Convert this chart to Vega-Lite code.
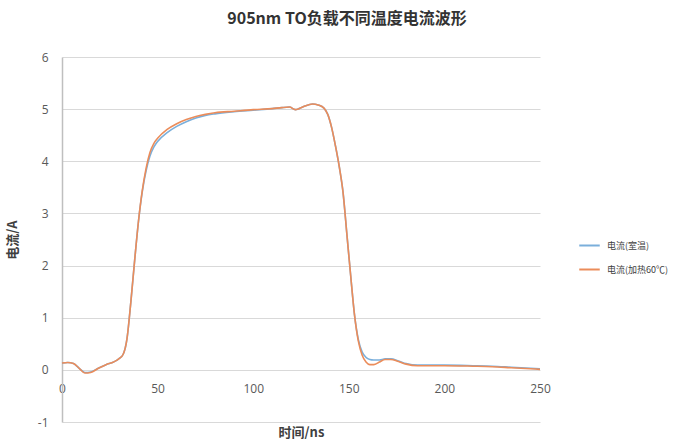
{
  "$schema": "https://vega.github.io/schema/vega-lite/v6.json",
  "autosize": "none",
  "width": 478,
  "height": 365,
  "padding": {"left": 62, "top": 57, "right": 147, "bottom": 24},
  "background": "white",
  "title": {
    "text": "905nm TO负载不同温度电流波形",
    "font": "Noto Sans CJK SC",
    "fontSize": 16,
    "fontWeight": "bold",
    "color": "#333333",
    "anchor": "middle",
    "dx": 46,
    "offset": 24
  },
  "datasets": {
    "curves": [
      {"t": 0, "v": 0.13, "s": "电流(室温)"},
      {"t": 3, "v": 0.14, "s": "电流(室温)"},
      {"t": 6, "v": 0.12, "s": "电流(室温)"},
      {"t": 9, "v": 0.03, "s": "电流(室温)"},
      {"t": 12, "v": -0.05, "s": "电流(室温)"},
      {"t": 15, "v": -0.04, "s": "电流(室温)"},
      {"t": 19, "v": 0.03, "s": "电流(室温)"},
      {"t": 23, "v": 0.1, "s": "电流(室温)"},
      {"t": 27, "v": 0.15, "s": "电流(室温)"},
      {"t": 30, "v": 0.22, "s": "电流(室温)"},
      {"t": 32, "v": 0.3, "s": "电流(室温)"},
      {"t": 34, "v": 0.6, "s": "电流(室温)"},
      {"t": 36, "v": 1.3, "s": "电流(室温)"},
      {"t": 38, "v": 2.1, "s": "电流(室温)"},
      {"t": 40, "v": 2.85, "s": "电流(室温)"},
      {"t": 42, "v": 3.42, "s": "电流(室温)"},
      {"t": 44, "v": 3.82, "s": "电流(室温)"},
      {"t": 46, "v": 4.1, "s": "电流(室温)"},
      {"t": 48, "v": 4.27, "s": "电流(室温)"},
      {"t": 50, "v": 4.38, "s": "电流(室温)"},
      {"t": 55, "v": 4.55, "s": "电流(室温)"},
      {"t": 60, "v": 4.67, "s": "电流(室温)"},
      {"t": 65, "v": 4.76, "s": "电流(室温)"},
      {"t": 70, "v": 4.83, "s": "电流(室温)"},
      {"t": 75, "v": 4.88, "s": "电流(室温)"},
      {"t": 80, "v": 4.91, "s": "电流(室温)"},
      {"t": 90, "v": 4.95, "s": "电流(室温)"},
      {"t": 100, "v": 4.98, "s": "电流(室温)"},
      {"t": 110, "v": 5.01, "s": "电流(室温)"},
      {"t": 115, "v": 5.03, "s": "电流(室温)"},
      {"t": 119, "v": 5.04, "s": "电流(室温)"},
      {"t": 122, "v": 4.99, "s": "电流(室温)"},
      {"t": 124, "v": 5.01, "s": "电流(室温)"},
      {"t": 127, "v": 5.06, "s": "电流(室温)"},
      {"t": 131, "v": 5.1, "s": "电流(室温)"},
      {"t": 134, "v": 5.08, "s": "电流(室温)"},
      {"t": 137, "v": 5.02, "s": "电流(室温)"},
      {"t": 139, "v": 4.9, "s": "电流(室温)"},
      {"t": 141, "v": 4.65, "s": "电流(室温)"},
      {"t": 143, "v": 4.3, "s": "电流(室温)"},
      {"t": 145, "v": 3.9, "s": "电流(室温)"},
      {"t": 147, "v": 3.4, "s": "电流(室温)"},
      {"t": 149, "v": 2.6, "s": "电流(室温)"},
      {"t": 151, "v": 1.8, "s": "电流(室温)"},
      {"t": 153, "v": 1.05, "s": "电流(室温)"},
      {"t": 155, "v": 0.58, "s": "电流(室温)"},
      {"t": 157, "v": 0.34, "s": "电流(室温)"},
      {"t": 159, "v": 0.24, "s": "电流(室温)"},
      {"t": 161, "v": 0.2, "s": "电流(室温)"},
      {"t": 163, "v": 0.19, "s": "电流(室温)"},
      {"t": 166, "v": 0.19, "s": "电流(室温)"},
      {"t": 169, "v": 0.21, "s": "电流(室温)"},
      {"t": 172, "v": 0.21, "s": "电流(室温)"},
      {"t": 176, "v": 0.17, "s": "电流(室温)"},
      {"t": 180, "v": 0.12, "s": "电流(室温)"},
      {"t": 186, "v": 0.09, "s": "电流(室温)"},
      {"t": 200, "v": 0.09, "s": "电流(室温)"},
      {"t": 215, "v": 0.08, "s": "电流(室温)"},
      {"t": 225, "v": 0.07, "s": "电流(室温)"},
      {"t": 235, "v": 0.05, "s": "电流(室温)"},
      {"t": 245, "v": 0.03, "s": "电流(室温)"},
      {"t": 250, "v": 0.02, "s": "电流(室温)"},
      {"t": 0, "v": 0.13, "s": "电流(加热60℃)"},
      {"t": 3, "v": 0.14, "s": "电流(加热60℃)"},
      {"t": 6, "v": 0.12, "s": "电流(加热60℃)"},
      {"t": 9, "v": 0.03, "s": "电流(加热60℃)"},
      {"t": 12, "v": -0.06, "s": "电流(加热60℃)"},
      {"t": 15, "v": -0.05, "s": "电流(加热60℃)"},
      {"t": 19, "v": 0.03, "s": "电流(加热60℃)"},
      {"t": 23, "v": 0.1, "s": "电流(加热60℃)"},
      {"t": 27, "v": 0.15, "s": "电流(加热60℃)"},
      {"t": 30, "v": 0.22, "s": "电流(加热60℃)"},
      {"t": 32, "v": 0.3, "s": "电流(加热60℃)"},
      {"t": 34, "v": 0.6, "s": "电流(加热60℃)"},
      {"t": 36, "v": 1.3, "s": "电流(加热60℃)"},
      {"t": 38, "v": 2.1, "s": "电流(加热60℃)"},
      {"t": 40, "v": 2.85, "s": "电流(加热60℃)"},
      {"t": 42, "v": 3.44, "s": "电流(加热60℃)"},
      {"t": 44, "v": 3.87, "s": "电流(加热60℃)"},
      {"t": 46, "v": 4.17, "s": "电流(加热60℃)"},
      {"t": 48, "v": 4.34, "s": "电流(加热60℃)"},
      {"t": 50, "v": 4.44, "s": "电流(加热60℃)"},
      {"t": 55, "v": 4.61, "s": "电流(加热60℃)"},
      {"t": 60, "v": 4.72, "s": "电流(加热60℃)"},
      {"t": 65, "v": 4.8, "s": "电流(加热60℃)"},
      {"t": 70, "v": 4.86, "s": "电流(加热60℃)"},
      {"t": 75, "v": 4.9, "s": "电流(加热60℃)"},
      {"t": 80, "v": 4.93, "s": "电流(加热60℃)"},
      {"t": 90, "v": 4.96, "s": "电流(加热60℃)"},
      {"t": 100, "v": 4.99, "s": "电流(加热60℃)"},
      {"t": 110, "v": 5.01, "s": "电流(加热60℃)"},
      {"t": 115, "v": 5.03, "s": "电流(加热60℃)"},
      {"t": 119, "v": 5.04, "s": "电流(加热60℃)"},
      {"t": 122, "v": 4.99, "s": "电流(加热60℃)"},
      {"t": 124, "v": 5.01, "s": "电流(加热60℃)"},
      {"t": 127, "v": 5.06, "s": "电流(加热60℃)"},
      {"t": 131, "v": 5.1, "s": "电流(加热60℃)"},
      {"t": 134, "v": 5.08, "s": "电流(加热60℃)"},
      {"t": 137, "v": 5.02, "s": "电流(加热60℃)"},
      {"t": 139, "v": 4.9, "s": "电流(加热60℃)"},
      {"t": 141, "v": 4.65, "s": "电流(加热60℃)"},
      {"t": 143, "v": 4.3, "s": "电流(加热60℃)"},
      {"t": 145, "v": 3.9, "s": "电流(加热60℃)"},
      {"t": 147, "v": 3.4, "s": "电流(加热60℃)"},
      {"t": 149, "v": 2.6, "s": "电流(加热60℃)"},
      {"t": 151, "v": 1.8, "s": "电流(加热60℃)"},
      {"t": 153, "v": 1.05, "s": "电流(加热60℃)"},
      {"t": 155, "v": 0.55, "s": "电流(加热60℃)"},
      {"t": 157, "v": 0.28, "s": "电流(加热60℃)"},
      {"t": 159, "v": 0.15, "s": "电流(加热60℃)"},
      {"t": 161, "v": 0.1, "s": "电流(加热60℃)"},
      {"t": 163, "v": 0.1, "s": "电流(加热60℃)"},
      {"t": 166, "v": 0.15, "s": "电流(加热60℃)"},
      {"t": 169, "v": 0.2, "s": "电流(加热60℃)"},
      {"t": 172, "v": 0.2, "s": "电流(加热60℃)"},
      {"t": 176, "v": 0.16, "s": "电流(加热60℃)"},
      {"t": 180, "v": 0.11, "s": "电流(加热60℃)"},
      {"t": 186, "v": 0.08, "s": "电流(加热60℃)"},
      {"t": 200, "v": 0.08, "s": "电流(加热60℃)"},
      {"t": 215, "v": 0.07, "s": "电流(加热60℃)"},
      {"t": 225, "v": 0.06, "s": "电流(加热60℃)"},
      {"t": 235, "v": 0.04, "s": "电流(加热60℃)"},
      {"t": 245, "v": 0.02, "s": "电流(加热60℃)"},
      {"t": 250, "v": 0.01, "s": "电流(加热60℃)"}
    ]
  },
  "data": {"name": "curves"},
  "config": {
    "view": {"stroke": null},
    "font": "Noto Sans CJK SC"
  },
  "mark": {"type": "line", "strokeWidth": 1.6, "interpolate": "monotone"},
  "encoding": {
    "x": {
      "field": "t",
      "type": "quantitative",
      "scale": {"domain": [0, 250], "nice": false},
      "axis": {
        "title": "时间/ns",
        "values": [0, 50, 100, 150, 200, 250],
        "offset": -52,
        "domain": false,
        "ticks": false,
        "grid": false,
        "labelFlush": false,
        "labelPadding": 13,
        "labelFontSize": 12,
        "labelColor": "#595959",
        "labelFont": "Open Sans",
        "titleFontSize": 13,
        "titleFontWeight": "bold",
        "titleColor": "#404040",
        "titlePadding": 32
      }
    },
    "y": {
      "field": "v",
      "type": "quantitative",
      "scale": {"domain": [-1, 6], "nice": false, "zero": false},
      "axis": {
        "title": "电流/A",
        "values": [-1, 0, 1, 2, 3, 4, 5, 6],
        "labelExpr": "replace(datum.label, '−', '-')",
        "domainColor": "#bfbfbf",
        "domainWidth": 1.5,
        "ticks": false,
        "gridColor": "#d9d9d9",
        "gridWidth": 1.2,
        "labelPadding": 14,
        "labelFontSize": 12,
        "labelColor": "#595959",
        "labelFont": "Open Sans",
        "titleFontSize": 13,
        "titleFontWeight": "bold",
        "titleColor": "#404040",
        "titlePadding": 18
      }
    },
    "color": {
      "field": "s",
      "type": "nominal",
      "sort": ["电流(室温)", "电流(加热60℃)"],
      "scale": {"domain": ["电流(室温)", "电流(加热60℃)"], "range": ["#7aafdb", "#eb8c5a"]},
      "legend": {
        "title": null,
        "orient": "none",
        "legendX": 516,
        "legendY": 177,
        "symbolType": "stroke",
        "symbolSize": 420,
        "symbolStrokeWidth": 2,
        "labelFontSize": 9,
        "labelColor": "#404040",
        "rowPadding": 7,
        "labelOffset": 6
      }
    },
    "order": {"field": "s", "sort": "descending"}
  }
}
